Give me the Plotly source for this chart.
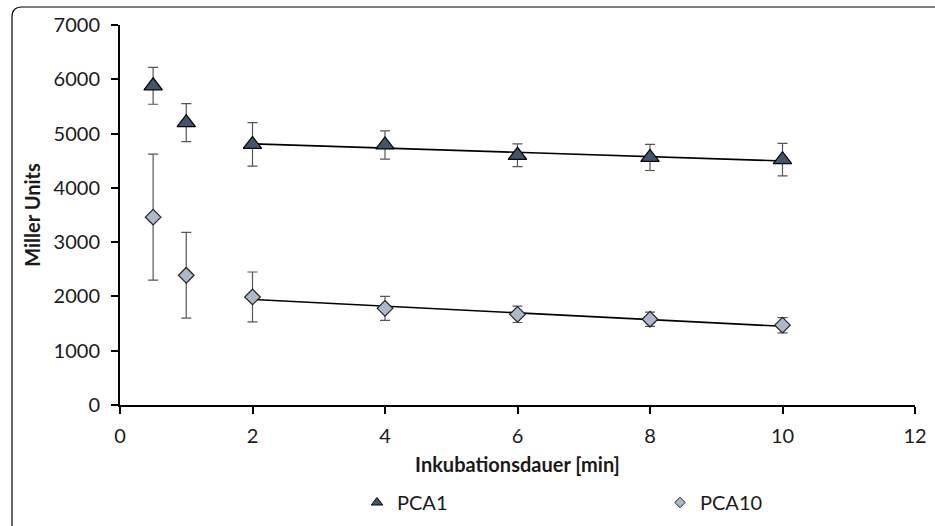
import numpy as np
import plotly.graph_objects as go

# Data
time_min = [0.5, 1, 2, 4, 6, 8, 10]
pca1 = [5880, 5200, 4800, 4790, 4600, 4560, 4520]
pca1_err = [340, 350, 400, 260, 210, 240, 300]
pca10 = [3460, 2390, 1990, 1780, 1670, 1580, 1470]
pca10_err = [1160, 790, 460, 220, 150, 130, 140]
fit_start = 2  # trend lines fitted from index 2 onwards

x_ticks = [0, 2, 4, 6, 8, 10, 12]
y_ticks = [0, 1000, 2000, 3000, 4000, 5000, 6000, 7000]

FONT = "Lato"
FS = 20
TXT = "#1a1a1a"

fig = go.Figure()

def trend(xs, ys):
    xs = np.array(xs[fit_start:], dtype=float)
    ys = np.array(ys[fit_start:], dtype=float)
    m, b = np.polyfit(xs, ys, 1)
    return [xs[0], xs[-1]], [m * xs[0] + b, m * xs[-1] + b]

for ys in (pca1, pca10):
    tx, ty = trend(time_min, ys)
    fig.add_trace(go.Scatter(x=tx, y=ty, mode="lines", showlegend=False,
                             line=dict(color="black", width=1.6), hoverinfo="skip"))

fig.add_trace(go.Scatter(
    x=time_min, y=pca1, mode="markers", name="PCA1", showlegend=False,
    marker=dict(symbol="triangle-up", size=16, color="#44546A",
                line=dict(color="black", width=1.2)),
    error_y=dict(type="data", array=pca1_err, visible=True,
                 color="#555555", thickness=1.2, width=5)))

fig.add_trace(go.Scatter(
    x=time_min, y=pca10, mode="markers", name="PCA10", showlegend=False,
    marker=dict(symbol="diamond", size=12, color="#ADB9CA",
                line=dict(color="#222222", width=1.2)),
    error_y=dict(type="data", array=pca10_err, visible=True,
                 color="#555555", thickness=1.2, width=5)))

# legend entries with smaller symbols
fig.add_trace(go.Scatter(x=[None], y=[None], mode="markers", name="PCA1",
                         marker=dict(symbol="triangle-up", size=10, color="#44546A",
                                     line=dict(color="black", width=1))))
fig.add_trace(go.Scatter(x=[None], y=[None], mode="markers", name="PCA10",
                         marker=dict(symbol="diamond", size=8, color="#ADB9CA",
                                     line=dict(color="#222222", width=1))))

axis_common = dict(showline=True, linecolor="black", linewidth=2,
                   ticks="outside", ticklen=7, tickwidth=2, tickcolor="black",
                   showgrid=False, zeroline=False, automargin=False,
                   tickfont=dict(family=FONT, size=FS, color=TXT))

fig.update_xaxes(range=[0, 12], tickvals=x_ticks, ticklabelstandoff=5,
                 title=dict(text="<b>Inkubationsdauer [min]</b>",
                            font=dict(family=FONT, size=FS, color=TXT), standoff=12),
                 **axis_common)
fig.update_yaxes(range=[0, 7000], tickvals=y_ticks, ticklabelstandoff=7,
                 title=dict(text="<b>Miller Units</b>",
                            font=dict(family=FONT, size=FS, color=TXT), standoff=8),
                 **axis_common)

# rounded chart frame (in pixel-derived paper coords)
W, H = 935, 526
ml, mr, mt, mb = 120, 20, 25, 121
pw, ph = W - ml - mr, H - mt - mb
def px(x): return (x - ml) / pw
def py(y): return 1 - (y - mt) / ph
x0, y0, x1, y1, r = 12, 7, 940, 540, 10
path = (f"M {px(x0)},{py(y1)} L {px(x0)},{py(y0 + r)} "
        f"Q {px(x0)},{py(y0)} {px(x0 + r)},{py(y0)} "
        f"L {px(x1)},{py(y0)}")
fig.add_shape(type="path", path=path, xref="paper", yref="paper",
              line=dict(color="black", width=1.2))

fig.update_layout(
    width=W, height=H,
    margin=dict(l=ml, r=mr, t=mt, b=mb, autoexpand=False),
    plot_bgcolor="white", paper_bgcolor="white",
    font=dict(family=FONT, size=FS, color=TXT),
    showlegend=True,
    legend=dict(orientation="h", x=(357 - ml) / pw, xanchor="left",
                y=-(483 - 405) / ph, yanchor="top",
                entrywidth=258, entrywidthmode="pixels",
                font=dict(family=FONT, size=FS, color=TXT),
                bgcolor="rgba(0,0,0,0)"),
)

fig.write_html("out.html")
